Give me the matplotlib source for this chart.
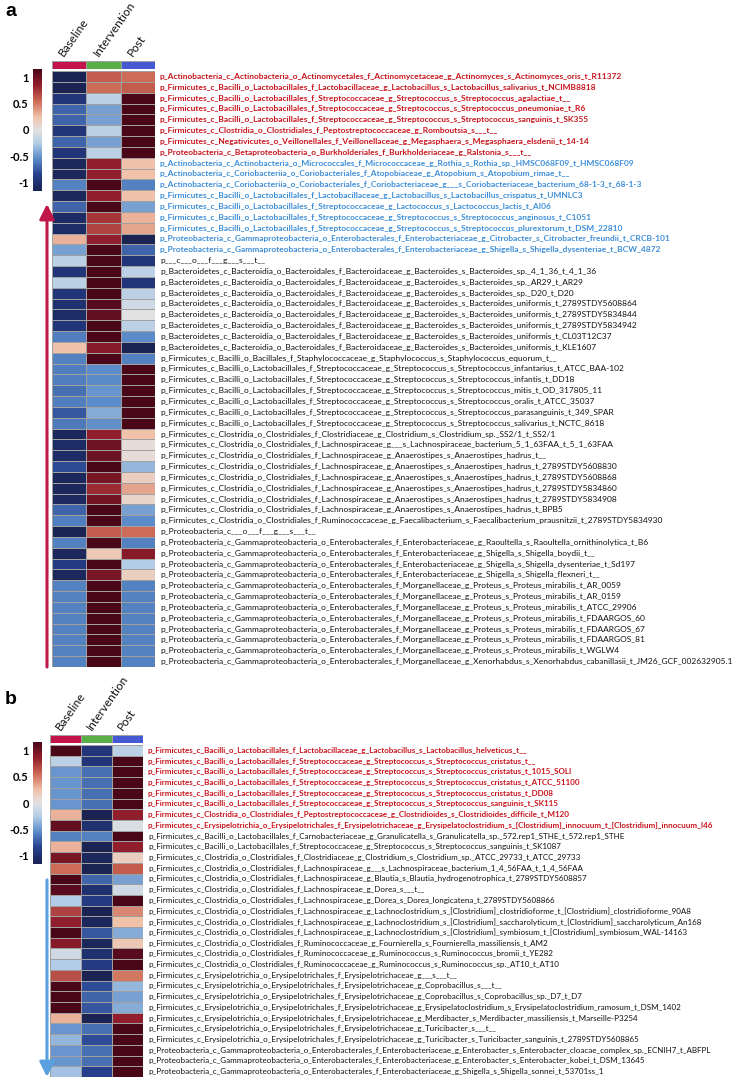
import matplotlib
matplotlib.use('Agg')
import matplotlib.pyplot as plt
import matplotlib.cm as cm
import numpy as np
from matplotlib.colors import LinearSegmentedColormap, ListedColormap, Normalize
from matplotlib.patches import FancyArrowPatch
from matplotlib.transforms import blended_transform_factory

plt.rcParams['font.family'] = ['Lato', 'DejaVu Sans']

columns = ['Baseline', 'Intervention', 'Post']

# common taxonomy prefixes
LACTOB = 'p_Firmicutes_c_Bacilli_o_Lactobacillales_f_'
STREP = LACTOB + 'Streptococcaceae_g_Streptococcus_s_Streptococcus_'
BACT = 'p_Bacteroidetes_c_Bacteroidia_o_Bacteroidales_f_Bacteroidaceae_g_Bacteroides_s_Bacteroides_'
CLOS = 'p_Firmicutes_c_Clostridia_o_Clostridiales_f_'
LACHNO = CLOS + 'Lachnospiraceae_g_'
HADRUS = LACHNO + 'Anaerostipes_s_Anaerostipes_hadrus_t_'
RUMI = CLOS + 'Ruminococcaceae_g_'
ENTERO = 'p_Proteobacteria_c_Gammaproteobacteria_o_Enterobacterales_f_'
SHIG = ENTERO + 'Enterobacteriaceae_g_Shigella_s_Shigella_'
PROTEUS = ENTERO + 'Morganellaceae_g_Proteus_s_Proteus_mirabilis_t_'
ERYS = 'p_Firmicutes_c_Erysipelotrichia_o_Erysipelotrichales_f_Erysipelotrichaceae_g_'

# ---- panel a ----
a_labels = [
    'p_Actinobacteria_c_Actinobacteria_o_Actinomycetales_f_Actinomycetaceae_g_Actinomyces_s_Actinomyces_oris_t_R11372',
    LACTOB + 'Lactobacillaceae_g_Lactobacillus_s_Lactobacillus_salivarius_t_NCIMB8818',
    STREP + 'agalactiae_t__',
    STREP + 'pneumoniae_t_R6',
    STREP + 'sanguinis_t_SK355',
    CLOS + 'Peptostreptococcaceae_g_Romboutsia_s___t__',
    'p_Firmicutes_c_Negativicutes_o_Veillonellales_f_Veillonellaceae_g_Megasphaera_s_Megasphaera_elsdenii_t_14-14',
    'p_Proteobacteria_c_Betaproteobacteria_o_Burkholderiales_f_Burkholderiaceae_g_Ralstonia_s___t__',
    'p_Actinobacteria_c_Actinobacteria_o_Micrococcales_f_Micrococcaceae_g_Rothia_s_Rothia_sp._HMSC068F09_t_HMSC068F09',
    'p_Actinobacteria_c_Coriobacteriia_o_Coriobacteriales_f_Atopobiaceae_g_Atopobium_s_Atopobium_rimae_t__',
    'p_Actinobacteria_c_Coriobacteriia_o_Coriobacteriales_f_Coriobacteriaceae_g___s_Coriobacteriaceae_bacterium_68-1-3_t_68-1-3',
    LACTOB + 'Lactobacillaceae_g_Lactobacillus_s_Lactobacillus_crispatus_t_UMNLC3',
    LACTOB + 'Streptococcaceae_g_Lactococcus_s_Lactococcus_lactis_t_AI06',
    STREP + 'anginosus_t_C1051',
    STREP + 'plurextorum_t_DSM_22810',
    ENTERO + 'Enterobacteriaceae_g_Citrobacter_s_Citrobacter_freundii_t_CRCB-101',
    SHIG + 'dysenteriae_t_BCW_4872',
    'p___c___o___f___g___s___t__',
    BACT + 'sp._4_1_36_t_4_1_36',
    BACT + 'sp._AR29_t_AR29',
    BACT + 'sp._D20_t_D20',
    BACT + 'uniformis_t_2789STDY5608864',
    BACT + 'uniformis_t_2789STDY5834844',
    BACT + 'uniformis_t_2789STDY5834942',
    BACT + 'uniformis_t_CL03T12C37',
    BACT + 'uniformis_t_KLE1607',
    'p_Firmicutes_c_Bacilli_o_Bacillales_f_Staphylococcaceae_g_Staphylococcus_s_Staphylococcus_equorum_t__',
    STREP + 'infantarius_t_ATCC_BAA-102',
    STREP + 'infantis_t_DD18',
    STREP + 'mitis_t_OD_317805_11',
    STREP + 'oralis_t_ATCC_35037',
    STREP + 'parasanguinis_t_349_SPAR',
    STREP + 'salivarius_t_NCTC_8618',
    CLOS + 'Clostridiaceae_g_Clostridium_s_Clostridium_sp._SS2/1_t_SS2/1',
    LACHNO + '__s_Lachnospiraceae_bacterium_5_1_63FAA_t_5_1_63FAA',
    HADRUS + '_',
    HADRUS + '2789STDY5608830',
    HADRUS + '2789STDY5608868',
    HADRUS + '2789STDY5834860',
    HADRUS + '2789STDY5834908',
    HADRUS + 'BPB5',
    RUMI + 'Faecalibacterium_s_Faecalibacterium_prausnitzii_t_2789STDY5834930',
    'p_Proteobacteria_c___o___f___g___s___t__',
    ENTERO + 'Enterobacteriaceae_g_Raoultella_s_Raoultella_ornithinolytica_t_B6',
    SHIG + 'boydii_t__',
    SHIG + 'dysenteriae_t_Sd197',
    SHIG + 'flexneri_t__',
    PROTEUS + 'AR_0059',
    PROTEUS + 'AR_0159',
    PROTEUS + 'ATCC_29906',
    PROTEUS + 'FDAARGOS_60',
    PROTEUS + 'FDAARGOS_67',
    PROTEUS + 'FDAARGOS_81',
    PROTEUS + 'WGLW4',
    ENTERO + 'Morganellaceae_g_Xenorhabdus_s_Xenorhabdus_cabanillasii_t_JM26_GCF_002632905.1',
]
a_groups = ['up'] * 8 + ['down'] * 9 + ['none'] * 38

a_baseline = [-1.15, -1.15, -0.95, -0.70, -0.70, -0.95, -0.70, -0.95,
              -1.10, -1.10, -0.58, -1.10, -0.70, -1.05, -1.05, 0.30, -0.45,
              -0.20, -0.95, -0.20, -0.95, -1.00, -1.05, -0.95, -0.60, 0.25,
              -0.58, -0.60, -0.60, -0.65, -0.60, -0.75, -0.62,
              -1.10, -1.05, -1.05, -0.80, -1.10, -1.10, -1.08, -0.70, -0.60,
              -1.15, -0.58, -1.10, -0.90, -1.10,
              -0.58, -0.58, -0.58, -0.58, -0.58, -0.58, -0.58, -0.58]
a_intervention = [0.60, 0.55, -0.20, -0.45, -0.45, -0.20, -0.45, -0.20,
                  0.85, 0.85, 1.15, 0.85, 1.15, 0.75, 0.70, 0.85, 1.15,
                  1.15, 1.15, 1.15, 1.15, 1.10, 1.05, 1.15, 1.15, 0.90,
                  1.15, -0.55, -0.55, -0.50, -0.55, -0.40, -0.53,
                  0.85, 1.00, 1.00, 1.15, 0.95, 0.80, 0.98, 1.15, 1.15,
                  0.60, 1.15, 0.20, 1.15, 0.95,
                  1.15, 1.15, 1.15, 1.15, 1.15, 1.15, 1.15, 1.15]
a_post = [0.55, 0.60, 1.15, 1.15, 1.15, 1.15, 1.15, 1.15,
          0.25, 0.25, -0.58, 0.25, -0.45, 0.30, 0.35, -1.15, -0.70,
          -0.95, -0.20, -0.95, -0.20, -0.10, 0.00, -0.20, -0.55, -1.15,
          -0.58, 1.15, 1.15, 1.15, 1.15, 1.15, 1.15,
          0.25, 0.05, 0.05, -0.35, 0.15, 0.35, 0.10, -0.45, -0.55,
          0.55, -0.58, 0.90, -0.25, 0.15,
          -0.58, -0.58, -0.58, -0.58, -0.58, -0.58, -0.58, -0.58]

# ---- panel b ----
b_labels = [
    LACTOB + 'Lactobacillaceae_g_Lactobacillus_s_Lactobacillus_helveticus_t__',
    STREP + 'cristatus_t__',
    STREP + 'cristatus_t_1015_SOLI',
    STREP + 'cristatus_t_ATCC_51100',
    STREP + 'cristatus_t_DD08',
    STREP + 'sanguinis_t_SK115',
    CLOS + 'Peptostreptococcaceae_g_Clostridioides_s_Clostridioides_difficile_t_M120',
    ERYS + 'Erysipelatoclostridium_s_[Clostridium]_innocuum_t_[Clostridium]_innocuum_I46',
    LACTOB + 'Carnobacteriaceae_g_Granulicatella_s_Granulicatella_sp._572.rep1_STHE_t_572.rep1_STHE',
    STREP + 'sanguinis_t_SK1087',
    CLOS + 'Clostridiaceae_g_Clostridium_s_Clostridium_sp._ATCC_29733_t_ATCC_29733',
    LACHNO + '__s_Lachnospiraceae_bacterium_1_4_56FAA_t_1_4_56FAA',
    LACHNO + 'Blautia_s_Blautia_hydrogenotrophica_t_2789STDY5608857',
    LACHNO + 'Dorea_s___t__',
    LACHNO + 'Dorea_s_Dorea_longicatena_t_2789STDY5608866',
    LACHNO + 'Lachnoclostridium_s_[Clostridium]_clostridioforme_t_[Clostridium]_clostridioforme_90A8',
    LACHNO + 'Lachnoclostridium_s_[Clostridium]_saccharolyticum_t_[Clostridium]_saccharolyticum_An168',
    LACHNO + 'Lachnoclostridium_s_[Clostridium]_symbiosum_t_[Clostridium]_symbiosum_WAL-14163',
    RUMI + 'Fournierella_s_Fournierella_massiliensis_t_AM2',
    RUMI + 'Ruminococcus_s_Ruminococcus_bromii_t_YE282',
    RUMI + 'Ruminococcus_s_Ruminococcus_sp._AT10_t_AT10',
    ERYS + '__s___t__',
    ERYS + 'Coprobacillus_s___t__',
    ERYS + 'Coprobacillus_s_Coprobacillus_sp._D7_t_D7',
    ERYS + 'Erysipelatoclostridium_s_Erysipelatoclostridium_ramosum_t_DSM_1402',
    ERYS + 'Merdibacter_s_Merdibacter_massiliensis_t_Marseille-P3254',
    ERYS + 'Turicibacter_s___t__',
    ERYS + 'Turicibacter_s_Turicibacter_sanguinis_t_2789STDY5608865',
    ENTERO + 'Enterobacteriaceae_g_Enterobacter_s_Enterobacter_cloacae_complex_sp._ECNIH7_t_ABFPL',
    ENTERO + 'Enterobacteriaceae_g_Enterobacter_s_Enterobacter_kobei_t_DSM_13645',
    SHIG + 'sonnei_t_53701ss_1',
]
b_groups = ['up'] * 8 + ['none'] * 23

b_baseline = [1.15, -0.20, -0.50, -0.50, -0.50, -0.50, 0.30, 1.05,
              -0.58, 0.30, 0.95, 0.55, 1.15, 1.10, -0.25, 0.70, 0.85, 1.15,
              0.90, -0.10, -0.25, 0.65, 1.15, 1.15, 1.15, 0.30, -0.50, -0.35,
              -0.50, -0.50, -0.30]
b_intervention = [-0.95, -0.95, -0.65, -0.65, -0.65, -0.65, -1.15, -1.00,
                  -0.58, -1.15, -1.10, -1.15, -0.70, -1.00, -0.90, -1.15, -1.10, -0.75,
                  -1.10, -1.00, -0.90, -1.15, -0.80, -0.70, -0.75, -1.15, -0.65, -0.80,
                  -0.65, -0.65, -0.85]
b_post = [-0.20, 1.15, 1.15, 1.15, 1.15, 1.15, 0.85, -0.05,
          1.15, 0.85, 0.15, 0.60, -0.45, -0.10, 1.15, 0.45, 0.25, -0.40,
          0.20, 1.10, 1.15, 0.50, -0.35, -0.45, -0.40, 0.85, 1.15, 1.15,
          1.15, 1.15, 1.15]

# ---- style ----
W, H = 752, 1079
label_colors = {'up': '#c8161e', 'down': '#3f8fd8', 'none': '#111111'}
label_weight = {'up': 'bold', 'down': 'bold', 'none': 'normal'}
strip_colors = ['#c2134b', '#5aae46', '#4559d2']

vmax = 1.155
nodes = [(-1.155, '#1a2352'), (-0.85, '#263f8c'), (-0.55, '#5a8bc8'),
         (-0.25, '#b4cde6'), (0.0, '#e2e2e2'), (0.25, '#f0c2aa'),
         (0.55, '#cc6a55'), (0.85, '#921e2d'), (1.155, '#4a0718')]
cmap = LinearSegmentedColormap.from_list(
    'hm', [((v + vmax) / (2 * vmax), c) for v, c in nodes])
norm = Normalize(-vmax, vmax)


def box(x0, y0, x1, y1):
    return [x0 / W, 1 - y1 / H, (x1 - x0) / W, (y1 - y0) / H]


fig = plt.figure(figsize=(W / 100, H / 100), dpi=100)
overlay = fig.add_axes([0, 0, 1, 1], zorder=5)
overlay.set_xlim(0, W)
overlay.set_ylim(H, 0)
overlay.axis('off')


def panel(letter, letter_y, hm, strip_y, cbar_y, arrow, arrow_color, fs,
          labels, groups, base, inter, post):
    x0, y0, x1, y1 = hm
    n = len(labels)
    vals = np.column_stack([base, inter, post])
    ax = fig.add_axes(box(x0, y0, x1, y1))
    ax.pcolormesh(np.arange(4), np.arange(n + 1), vals, cmap=cmap, norm=norm,
                  edgecolors='#a0a0a0', linewidth=0.4)
    ax.set_xlim(0, 3)
    ax.set_ylim(n, 0)
    ax.axis('off')
    colw = (x1 - x0) / 3
    for i, (lab, g) in enumerate(zip(labels, groups)):
        ax.text(3 + 5 / colw, i + 0.5, lab, ha='left', va='center',
                fontsize=fs, color=label_colors[g], fontweight=label_weight[g],
                clip_on=False)

    # group colour strip + rotated headers
    sx = fig.add_axes(box(x0, strip_y[0], x1, strip_y[1]))
    sx.pcolormesh(np.arange(4), [0, 1], np.arange(3).reshape(1, 3),
                  cmap=ListedColormap(strip_colors),
                  edgecolors='#a0a0a0', linewidth=0.4)
    sx.set_xlim(0, 3)
    sx.set_ylim(0, 1)
    sx.axis('off')
    tr = blended_transform_factory(sx.transData, sx.transAxes)
    for j, name in enumerate(columns):
        sx.text(j + 0.4, 1.4, name, transform=tr, rotation=55,
                rotation_mode='anchor', ha='left', va='bottom', fontsize=8.5,
                color='#111111')

    # colour legend
    cax = fig.add_axes(box(33, cbar_y, 42, cbar_y + 122))
    cb = fig.colorbar(cm.ScalarMappable(norm=norm, cmap=cmap), cax=cax,
                      ticks=[1, 0.5, 0, -0.5, -1])
    cb.outline.set_visible(False)
    cb.set_ticklabels(['1', '0.5', '0', '-0.5', '-1'])
    cax.yaxis.set_ticks_position('left')
    cax.tick_params(length=0, pad=3, labelsize=8)
    for t in cax.get_yticklabels():
        t.set_fontweight('bold')

    overlay.text(5, letter_y, letter, fontsize=14, fontweight='bold',
                 family='Liberation Sans', va='center', ha='left')
    overlay.add_patch(FancyArrowPatch(arrow[0], arrow[1],
                                      arrowstyle='-|>,head_length=0.5,head_width=0.25',
                                      mutation_scale=18, color=arrow_color,
                                      lw=2.2, shrinkA=0, shrinkB=0))


panel('a', 12, (52, 71, 155, 667), (61, 69), 69, ((47, 667), (47, 204)),
      '#c0174a', 6.0, a_labels, a_groups, a_baseline, a_intervention, a_post)
panel('b', 700, (50, 745, 143, 1077), (735, 743), 742, ((47, 880), (47, 1077)),
      '#5aa0e0', 5.8, b_labels, b_groups, b_baseline, b_intervention, b_post)

fig.savefig('out.png', dpi=100)
